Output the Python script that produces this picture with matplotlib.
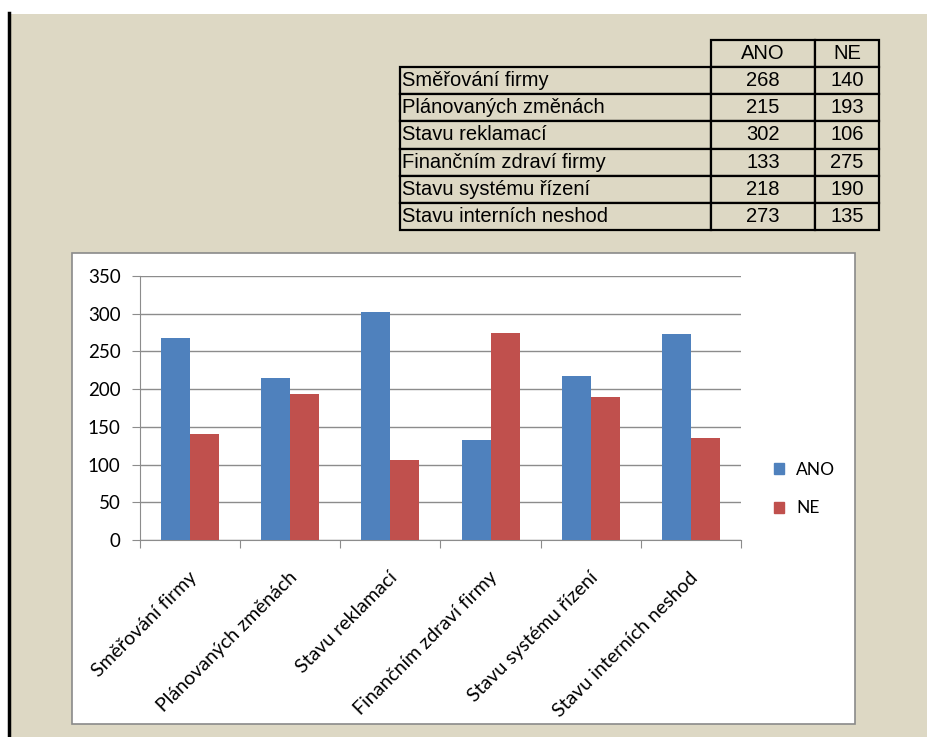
import numpy as np
import matplotlib.pyplot as plt
from matplotlib.patches import Rectangle
from matplotlib.lines import Line2D

categories = [
    "Směřování firmy",
    "Plánovaných změnách",
    "Stavu reklamací",
    "Finančním zdraví firmy",
    "Stavu systému řízení",
    "Stavu interních neshod",
]
ano = [268, 215, 302, 133, 218, 273]
ne = [140, 193, 106, 275, 190, 135]
series_names = ["ANO", "NE"]
yticks = [0, 50, 100, 150, 200, 250, 300, 350]

W, H = 928, 737
BEIGE = "#DDD8C4"
BLUE = "#4F81BD"
RED = "#C0504D"
GRID = "#8C8C8C"


def fx(px):
    return px / W


def fy(py):
    return 1 - py / H


fig = plt.figure(figsize=(9.28, 7.37), dpi=100)
fig.patch.set_facecolor("white")

# beige page, black left rule, white chart frame
fig.patches.append(Rectangle((fx(11), 0), 1 - fx(11), fy(14), transform=fig.transFigure,
                             facecolor=BEIGE, edgecolor="none", zorder=-3))
fig.add_artist(Line2D([fx(9.5), fx(9.5)], [0, fy(13)], transform=fig.transFigure,
                      color="black", lw=2.5, zorder=-2))
fig.patches.append(Rectangle((fx(72), fy(724)), fx(855 - 72), (724 - 253) / H,
                             transform=fig.transFigure, facecolor="white",
                             edgecolor="#8A8A8A", lw=1.2, zorder=-1))

# data table at the top
tax = fig.add_axes([fx(400), fy(230), fx(479), 190 / H])
tax.axis("off")
cell_text = [["", "ANO", "NE"]] + [[c, str(a), str(n)] for c, a, n in zip(categories, ano, ne)]
tbl = tax.table(cellText=cell_text, colWidths=[311, 104, 64], bbox=[0, 0, 1, 1],
                cellLoc="center")
tbl.auto_set_font_size(False)
for (r, c), cell in tbl.get_celld().items():
    cell.set_facecolor(BEIGE)
    cell.set_edgecolor("black")
    cell.set_linewidth(1.6)
    txt = cell.get_text()
    txt.set_fontsize(14.5)
    txt.set_family("Liberation Sans")
    if c == 0:
        txt.set_ha("left")
        cell.PAD = 0.008
    if r == 0 and c == 0:
        cell.visible_edges = ""
        cell.set_facecolor("none")

# bar chart
ax = fig.add_axes([fx(140), fy(540), fx(601), 264 / H])
ax.patch.set_alpha(0)
x = np.arange(len(categories))
bw = 0.29
ax.bar(x - bw / 2, ano, bw, color=BLUE, zorder=3)
ax.bar(x + bw / 2, ne, bw, color=RED, zorder=3)
ax.set_xlim(-0.5, len(categories) - 0.5)
ax.set_ylim(0, 350)
ax.set_yticks(yticks)
ax.yaxis.grid(True, color=GRID, lw=1, zorder=0)
ax.set_axisbelow(True)
for s in ["top", "right"]:
    ax.spines[s].set_visible(False)
for s in ["left", "bottom"]:
    ax.spines[s].set_color(GRID)
ax.set_xticks(np.arange(len(categories) + 1) - 0.5)
ax.set_xticklabels([])
ax.tick_params(axis="x", length=6, color=GRID)
ax.tick_params(axis="y", length=6, color=GRID, pad=8, labelsize=13.5)
for lab in ax.get_yticklabels():
    lab.set_family("Lato")
for i, name in enumerate(categories):
    ax.text(i - 0.02, -38, name, rotation=45, ha="right", va="top",
            rotation_mode="anchor", fontsize=14, family="Lato")

handles = [Rectangle((0, 0), 1, 1, color=BLUE), Rectangle((0, 0), 1, 1, color=RED)]
fig.legend(handles, series_names, loc="center left", bbox_to_anchor=(fx(758), fy(489)),
           frameon=False, prop={"family": "Lato", "size": 12.5}, handlelength=0.6,
           handleheight=0.6, handletextpad=0.7, labelspacing=1.3)

fig.savefig("out.png", dpi=100, facecolor=fig.get_facecolor())
